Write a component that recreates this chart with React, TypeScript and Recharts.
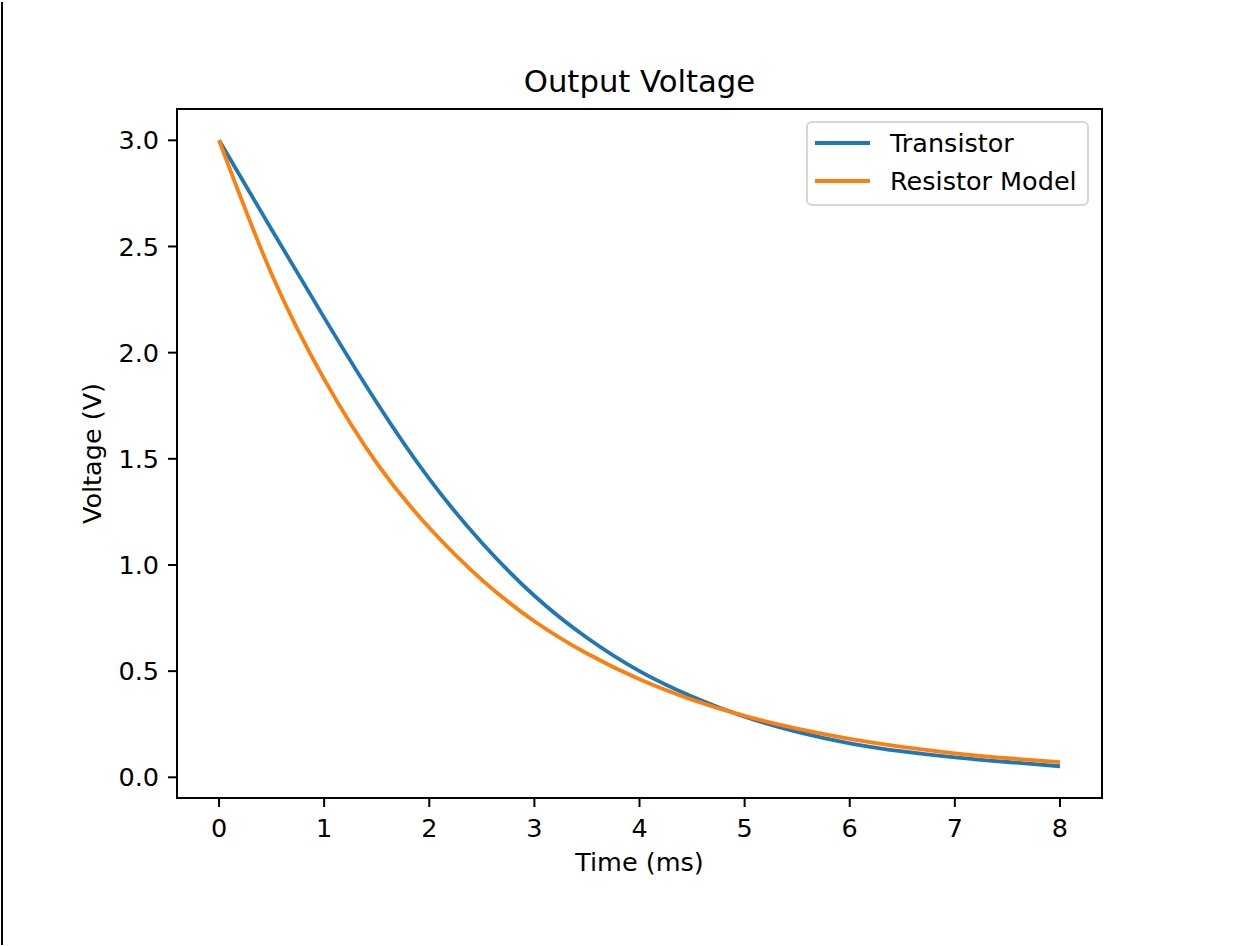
import { LineChart, Line, XAxis, YAxis, Legend, Label, ReferenceArea } from 'recharts'

const time = [0, 0.5, 1, 1.5, 2, 2.5, 3, 3.5, 4, 4.5, 5, 5.5, 6, 6.5, 7, 7.5, 8]
const transistor = [3.0, 2.58, 2.165, 1.765, 1.405, 1.105, 0.855, 0.657, 0.5, 0.38, 0.285, 0.214, 0.16, 0.122, 0.094, 0.072, 0.052]
const resistorModel = [3.0, 2.37, 1.875, 1.48, 1.175, 0.93, 0.735, 0.583, 0.462, 0.366, 0.289, 0.229, 0.181, 0.143, 0.113, 0.09, 0.071]
const seriesNames = ['Transistor', 'Resistor Model']
const xTicks = [0, 1, 2, 3, 4, 5, 6, 7, 8]
const yTicks = [0, 0.5, 1, 1.5, 2, 2.5, 3]

const data = time.map((t, i) => ({ t, transistor: transistor[i], resistor: resistorModel[i] }))

const FONT = '"DejaVu Sans", sans-serif'
const BLUE = '#1f77b4'
const ORANGE = '#ff7f0e'
const TICK_FONT = 25.5
const X_DOMAIN: [number, number] = [-0.4, 8.4]
const Y_DOMAIN: [number, number] = [-0.0975, 3.1475]

function MplLegend({ payload }: any) {
    const items = [...(payload || [])].sort(
        (a: any, b: any) => seriesNames.indexOf(a.value) - seriesNames.indexOf(b.value)
    )
    return (
        <svg width={284} height={86} style={{ display: 'block' }}>
            <rect x={1} y={1} width={281} height={83} rx={5} fill="#fff" stroke="#d6d6d6" strokeWidth={2} />
            {items.map((it: any, i: number) => (
                <g key={it.value}>
                    <line x1={9} x2={64} y1={22 + i * 38} y2={22 + i * 38} stroke={it.color} strokeWidth={3.8} />
                    <text x={84} y={31 + i * 38} fontSize={TICK_FONT} fill="#000" fontFamily={FONT}>
                        {it.value}
                    </text>
                </g>
            ))}
        </svg>
    )
}

export default function App() {
    const axisStyle = { stroke: '#000', strokeWidth: 2 }
    return (
        <div style={{ position: 'absolute', left: 0, top: 0, width: 1247, height: 946, background: '#fff', fontFamily: FONT }}>
            <div style={{ position: 'absolute', left: 1, top: 2, width: 2, height: 943, background: '#000' }} />
            <LineChart width={1247} height={946} data={data} margin={{ top: 109, right: 145, bottom: 118, left: 117 }}>
                <XAxis
                    dataKey="t"
                    type="number"
                    domain={X_DOMAIN}
                    ticks={xTicks}
                    height={30}
                    tickSize={9}
                    tickMargin={12}
                    axisLine={axisStyle}
                    tickLine={axisStyle}
                    tick={{ fill: '#000', fontSize: TICK_FONT, fontFamily: FONT }}
                    interval={0}
                >
                    <Label value="Time (ms)" position="bottom" offset={25} fill="#000" fontSize={TICK_FONT} fontFamily={FONT} />
                </XAxis>
                <YAxis
                    type="number"
                    domain={Y_DOMAIN}
                    ticks={yTicks}
                    width={60}
                    tickSize={9}
                    tickMargin={9}
                    axisLine={axisStyle}
                    tickLine={axisStyle}
                    tick={{ fill: '#000', fontSize: TICK_FONT, fontFamily: FONT }}
                    tickFormatter={(v: number) => v.toFixed(1)}
                    interval={0}
                >
                    <Label
                        content={({ viewBox }: any) => {
                            const cx = viewBox.x - 16.5
                            const cy = viewBox.y + viewBox.height / 2
                            return (
                                <text x={cx} y={cy} transform={`rotate(-90 ${cx} ${cy})`} textAnchor="middle" fontSize={TICK_FONT} fill="#000" fontFamily={FONT}>
                                    Voltage (V)
                                </text>
                            )
                        }}
                    />
                </YAxis>
                <ReferenceArea
                    x1={X_DOMAIN[0]}
                    x2={X_DOMAIN[1]}
                    y1={Y_DOMAIN[0]}
                    y2={Y_DOMAIN[1]}
                    fill="none"
                    fillOpacity={0}
                    stroke="#000"
                    strokeWidth={2}
                    strokeOpacity={1}
                    ifOverflow="visible"
                >
                    <Label value="Output Voltage" position="top" offset={17} fill="#000" fontSize={30.7} fontFamily={FONT} />
                </ReferenceArea>
                <Legend
                    layout="horizontal"
                    verticalAlign="middle"
                    align="center"
                    content={<MplLegend />}
                    wrapperStyle={{ position: 'absolute', left: 806, top: 121, width: 284, height: 86 }}
                />
                <Line
                    type="natural"
                    dataKey="transistor"
                    name="Transistor"
                    stroke={BLUE}
                    strokeWidth={3.8}
                    dot={false}
                    isAnimationActive={false}
                />
                <Line
                    type="natural"
                    dataKey="resistor"
                    name="Resistor Model"
                    stroke={ORANGE}
                    strokeWidth={3.8}
                    dot={false}
                    isAnimationActive={false}
                />
            </LineChart>
        </div>
    )
}
